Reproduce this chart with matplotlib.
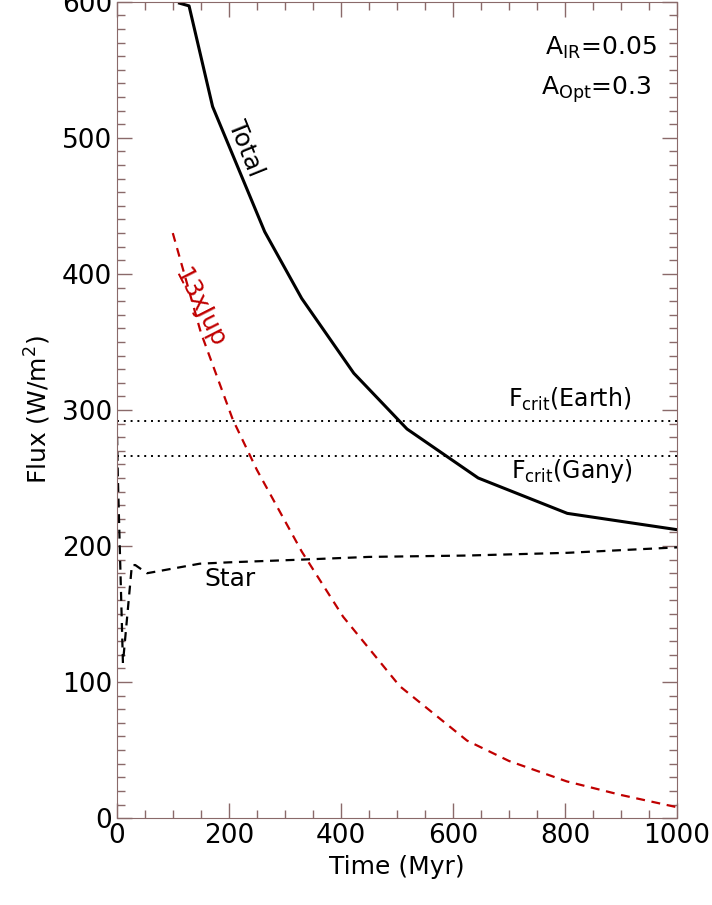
import matplotlib
matplotlib.use("Agg")
import matplotlib.pyplot as plt
from matplotlib.ticker import MultipleLocator

# values
total_t = [112, 129, 171, 264, 330, 423, 518, 645, 804, 1000]
total_f = [599, 597, 523, 431, 382, 327, 286, 250, 224, 212]

jup_t = [100, 150, 207, 250, 330, 404, 505, 625, 700, 803, 900, 1000]
jup_f = [430, 357, 293, 256, 196, 148, 97, 57, 42, 27, 17, 8]

star_t = [0, 2, 11, 27, 33, 54, 148, 200, 330, 450, 625, 804, 1000]
star_f = [292, 250, 114, 186, 186, 180, 187, 188, 190, 192, 193, 195, 199]

fcrit_earth = 292
fcrit_gany = 266

FRAME = "#8a6a6a"

fig = plt.figure(figsize=(7.12, 9.05), dpi=100)
ax = fig.add_axes([0.164, 0.096, 0.787, 0.902])

ax.plot(total_t, total_f, color="black", lw=2.2)
ax.plot(jup_t, jup_f, color="#c00000", lw=1.6, ls=(0, (4, 3)))
ax.plot(star_t, star_f, color="black", lw=1.6, ls=(0, (4, 3)))
ax.axhline(fcrit_earth, color="black", lw=1.4, ls=(0, (1, 2.5)))
ax.axhline(fcrit_gany, color="black", lw=1.4, ls=(0, (1, 2.5)))

ax.set_xlim(0, 1000)
ax.set_ylim(0, 600)
ax.xaxis.set_major_locator(MultipleLocator(200))
ax.xaxis.set_minor_locator(MultipleLocator(50))
ax.yaxis.set_major_locator(MultipleLocator(100))
ax.yaxis.set_minor_locator(MultipleLocator(10))
ax.tick_params(which="both", direction="in", top=True, right=True, color=FRAME, labelsize=19)
ax.tick_params(which="major", length=11, width=1)
ax.tick_params(which="minor", length=6, width=1)
for s in ax.spines.values():
    s.set_color(FRAME)
# keep the top label inside the picture, as the reference does
ax.get_yticklabels()[-1].set_va("top")

ax.set_xlabel("Time (Myr)", fontsize=18, labelpad=4)
ax.set_ylabel("Flux (W/m$^2$)", fontsize=18, labelpad=6)

ax.text(229, 492, "Total", rotation=-68, fontsize=18, ha="center", va="center")
ax.text(148, 375, "13xJup", rotation=-63, fontsize=18, ha="center", va="center", color="#c00000")
ax.text(202, 176, "Star", fontsize=18, ha="center", va="center")
ax.text(809, 308, r"F$_{\rm crit}$(Earth)", fontsize=17, ha="center", va="center")
ax.text(812, 255, r"F$_{\rm crit}$(Gany)", fontsize=17, ha="center", va="center")
ax.text(0.964, 0.944, r"A$_{\rm IR}$=0.05", fontsize=18, ha="right", va="center", transform=ax.transAxes)
ax.text(0.955, 0.892, r"A$_{\rm Opt}$=0.3", fontsize=18, ha="right", va="center", transform=ax.transAxes)

fig.savefig("out.png", dpi=100)
